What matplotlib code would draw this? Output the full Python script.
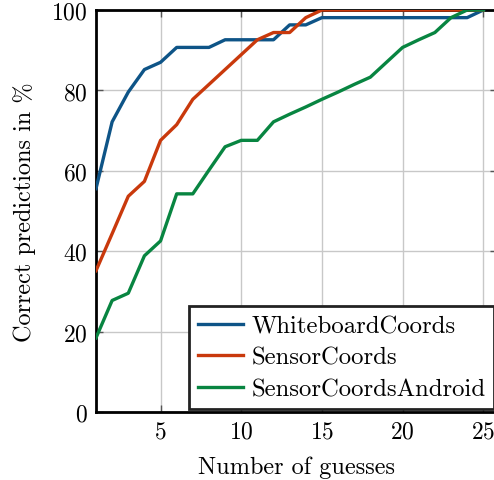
import matplotlib
matplotlib.use("Agg")
import matplotlib.pyplot as plt

plt.rcParams['font.family'] = 'cmr10'
plt.rcParams['mathtext.fontset'] = 'cm'
plt.rcParams['axes.formatter.use_mathtext'] = True

guesses = list(range(1, 26))

whiteboard = [55.6, 72.2, 79.6, 85.2, 87.0, 90.7, 90.7, 90.7, 92.6, 92.6,
              92.6, 92.6, 96.3, 96.3, 98.1, 98.1, 98.1, 98.1, 98.1, 98.1,
              98.1, 98.1, 98.1, 98.1, 100.0]
sensor = [35.2, 44.4, 53.7, 57.4, 67.6, 71.5, 77.8, 81.5, 85.2, 88.9,
          92.6, 94.4, 94.4, 98.1, 100.0, 100.0, 100.0, 100.0, 100.0, 100.0,
          100.0, 100.0, 100.0, 100.0, 100.0]
android = [18.5, 27.8, 29.6, 38.9, 42.6, 54.3, 54.3, 60.2, 66.0, 67.6,
           67.6, 72.2, 74.1, 75.9, 77.8, 79.6, 81.5, 83.3, 87.0, 90.7,
           92.6, 94.4, 98.1, 100.0, 100.0]

labels = ['WhiteboardCoords', 'SensorCoords', 'SensorCoordsAndroid']
colors = ['#0e5487', '#c9390c', '#088541']

fig = plt.figure(figsize=(4.94, 4.81), dpi=100)
ax = fig.add_axes([96 / 494, (481 - 413.3) / 481, 401 / 494, 402.3 / 481])

for ys, lab, c in zip([whiteboard, sensor, android], labels, colors):
    ax.plot(guesses, ys, color=c, lw=2.4, label=lab, zorder=3)

ax.set_xlim(1, 25.85)
ax.set_ylim(0, 100)
ax.set_xticks([5, 10, 15, 20, 25])
ax.set_yticks([0, 20, 40, 60, 80, 100])
ax.grid(True, color='#c8c8c8', lw=1.0)
ax.tick_params(direction='in', length=5, width=1, color='#555555',
               top=True, right=True, labelsize=17, pad=6)
for s in ax.spines.values():
    s.set_linewidth(2.0)
    s.set_color('black')

ax.set_xlabel('Number of guesses', fontsize=17.5, labelpad=9)
ax.set_ylabel('Correct predictions in %', fontsize=17.5, labelpad=11)

leg = ax.legend(loc='lower right', fontsize=17.8, fancybox=False, framealpha=1,
                edgecolor='#222222', handlelength=1.8, handletextpad=0.35,
                borderaxespad=0.12, labelspacing=0.38, borderpad=0.35)
leg.get_frame().set_linewidth(2.0)

fig.savefig('out.png', dpi=100)
